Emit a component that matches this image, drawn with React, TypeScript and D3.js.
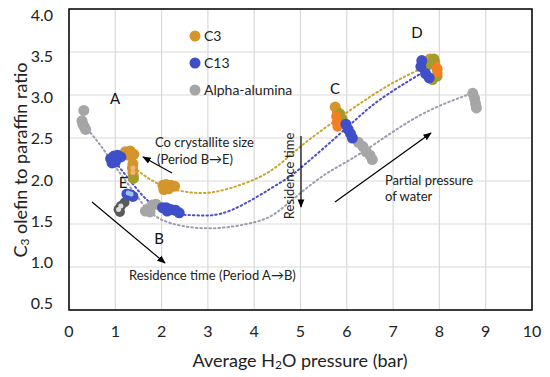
import React from "react";
import * as d3 from "d3";

const W = 550;
const H = 377;

const xTicks = [0, 1, 2, 3, 4, 5, 6, 7, 8, 9, 10];
const yTicks = [0.5, 1.0, 1.5, 2.0, 2.5, 3.0, 3.5, 4.0];

// fitted trend lines
const c3Trend: [number, number][] = [
  [1.4, 2.16], [2.0, 1.95], [2.8, 1.86], [3.5, 1.92], [4.3, 2.1],
  [5.0, 2.4], [5.8, 2.72], [6.8, 3.08], [7.7, 3.33],
];
const c13Trend: [number, number][] = [
  [1.0, 2.22], [1.4, 1.95], [1.8, 1.73], [2.3, 1.62], [2.8, 1.6], [3.5, 1.66],
  [4.5, 1.96], [5.0, 2.15], [6.0, 2.62], [6.7, 2.94], [7.6, 3.25],
];
const aluminaTrend: [number, number][] = [
  [0.4, 2.6], [0.7, 2.4], [1.05, 2.13], [1.5, 1.8], [2.0, 1.55], [3.0, 1.45],
  [4.0, 1.52], [4.5, 1.64], [5.0, 1.86], [5.6, 2.1], [6.35, 2.34], [7.5, 2.74], [8.6, 3.0],
];

// measured points
const c3Points: [number, number][] = [
  [1.22, 2.34], [1.32, 2.35], [1.4, 2.31], [1.28, 2.3],
  [1.38, 2.2], [1.37, 2.15], [1.38, 2.1], [1.39, 2.06],
  [2.03, 1.95], [2.1, 1.96], [2.2, 1.95], [2.28, 1.94], [2.05, 1.9], [2.15, 1.91],
  [5.75, 2.86], [5.8, 2.8],
  [7.8, 3.42], [7.9, 3.38],
];
const c3OlivePoints: [number, number][] = [
  [1.39, 2.03],
  [5.85, 2.78], [5.9, 2.72],
  [7.75, 3.35], [7.95, 3.3], [7.85, 3.18], [7.95, 3.22], [7.88, 3.42],
];
const c3OrangePoints: [number, number][] = [
  [5.77, 2.75], [5.78, 2.68], [5.8, 2.63],
  [7.94, 3.32], [7.96, 3.26],
];
const c3PalePoints: [number, number][] = [[1.38, 2.15], [1.38, 2.1]];

const c13Points: [number, number][] = [
  [0.9, 2.26], [0.97, 2.29], [1.05, 2.3], [1.12, 2.28], [1.0, 2.22], [0.93, 2.21],
  [1.25, 1.85], [1.33, 1.84], [1.38, 1.82],
  [2.02, 1.69], [2.1, 1.69], [2.2, 1.67], [2.3, 1.66], [2.38, 1.63], [2.12, 1.65],
  [5.98, 2.66], [6.03, 2.6], [6.08, 2.55], [6.12, 2.5],
  [7.62, 3.4], [7.6, 3.33], [7.7, 3.25], [7.78, 3.2],
];
const c13PalePoints: [number, number][] = [[1.28, 1.86], [1.34, 1.85]];

const aluminaPoints: [number, number][] = [
  [0.32, 2.82], [0.28, 2.7], [0.3, 2.66], [0.33, 2.63], [0.36, 2.6],
  [1.65, 1.65], [1.72, 1.68], [1.8, 1.72], [1.88, 1.73], [1.75, 1.64],
  [6.25, 2.45], [6.35, 2.4], [6.42, 2.34], [6.5, 2.3], [6.55, 2.25],
  [8.72, 3.02], [8.76, 2.96], [8.78, 2.9], [8.8, 2.85],
];
const aluminaDarkPoints: [number, number][] = [[1.07, 1.67], [1.12, 1.71], [1.2, 1.75], [1.1, 1.64]];

const legendItems = [
  { label: "C3", color: "#D4952B" },
  { label: "C13", color: "#3F4FC9" },
  { label: "Alpha-alumina", color: "#A6A6A6" },
];

const font = "Lato, 'Open Sans', sans-serif";

export default function App() {
  const x = d3.scaleLinear().domain([0, 10]).range([69, 532]);
  const y = d3.scaleLinear().domain([0.5, 4.0]).range([310, 9]);
  const yLab = d3.scaleLinear().domain([0.5, 4.0]).range([305, 17]);

  const line = d3
    .line<[number, number]>()
    .x((d) => x(d[0]))
    .y((d) => y(d[1]))
    .curve(d3.curveNatural);

  const dots = (pts: [number, number][], color: string, r: number, key: string) =>
    pts.map((p, i) => <circle key={key + i} cx={x(p[0])} cy={y(p[1])} r={r} fill={color} />);

  return (
    <svg width={W} height={H} style={{ position: "absolute", left: 0, top: 0, background: "#fff" }} fontFamily={font}>
      <defs>
        <marker id="ah" viewBox="0 0 10 10" refX="9" refY="5" markerWidth="7" markerHeight="7" orient="auto">
          <path d="M0,1 L10,5 L0,9 z" fill="#000" />
        </marker>
      </defs>
      {/* grid */}
      {xTicks.map((t) => (
        <line key={"gx" + t} x1={x(t)} x2={x(t)} y1={y(0.5)} y2={y(4.0)} stroke="#D9D9D9" strokeWidth={1.2} />
      ))}
      {yTicks.map((t) => (
        <line key={"gy" + t} x1={x(0)} x2={x(10)} y1={y(t)} y2={y(t)} stroke="#D9D9D9" strokeWidth={1.2} />
      ))}
      <rect x={x(0)} y={y(4.0)} width={x(10) - x(0)} height={y(0.5) - y(4.0)} fill="none" stroke="#000" strokeWidth={1.5} />

      {/* tick labels */}
      {yTicks.map((t) => (
        <text key={"ly" + t} x={53} y={yLab(t)} textAnchor="end" dominantBaseline="middle" fontSize={16} fill="#222">
          {t.toFixed(1)}
        </text>
      ))}
      {xTicks.map((t) => (
        <text key={"lx" + t} x={x(t)} y={333} textAnchor="middle" dominantBaseline="middle" fontSize={16} fill="#222">
          {t}
        </text>
      ))}

      {/* axis titles */}
      <text x={300} y={362} textAnchor="middle" dominantBaseline="middle" fontSize={18} fill="#222">
        Average H<tspan fontSize={12} dy={4}>2</tspan>
        <tspan dy={-4}>O pressure (bar)</tspan>
      </text>
      <text transform="translate(22,160) rotate(-90)" textAnchor="middle" dominantBaseline="middle" fontSize={18} fill="#222">
        C<tspan fontSize={12} dy={4}>3</tspan>
        <tspan dy={-4}> olefin to paraffin ratio</tspan>
      </text>

      {/* trend lines */}
      <path d={line(aluminaTrend) || ""} fill="none" stroke="#9C9CAE" strokeWidth={2} strokeDasharray="1.5 3" strokeLinecap="round" />
      <path d={line(c13Trend) || ""} fill="none" stroke="#4F4FC4" strokeWidth={2} strokeDasharray="1.5 3" strokeLinecap="round" />
      <path d={line(c3Trend) || ""} fill="none" stroke="#C9A530" strokeWidth={2} strokeDasharray="1.5 3" strokeLinecap="round" />

      {/* points */}
      {dots(aluminaPoints, "#A6A6A6", 5.5, "al")}
      {dots(aluminaDarkPoints, "#5A5A5A", 5, "ad")}
      {dots(aluminaDarkPoints.slice(0, 2), "#E0E0E0", 2.5, "adi")}
      {dots(c3Points, "#D4952B", 5.5, "c3")}
      {dots(c3OlivePoints, "#A39B2B", 5.5, "c3o")}
      {dots(c3OrangePoints, "#F47F20", 5, "c3r")}
      {dots(c3PalePoints, "#F3B27F", 2.5, "c3p")}
      {dots(c13Points, "#3F4FC9", 5.5, "c13")}
      {dots(c13PalePoints, "#9DC3E6", 2.5, "c13p")}

      {/* legend */}
      {legendItems.map((d, i) => (
        <g key={d.label}>
          <circle cx={195} cy={36 + i * 27} r={5.5} fill={d.color} />
          <text x={204} y={37 + i * 27} dominantBaseline="middle" fontSize={14} fill="#222">
            {d.label}
          </text>
        </g>
      ))}

      {/* period labels */}
      {[
        ["A", 115, 100],
        ["E", 123, 184],
        ["B", 159, 240],
        ["C", 335, 90],
        ["D", 417, 34],
      ].map(([t, tx, ty]) => (
        <text key={t as string} x={tx as number} y={ty as number} textAnchor="middle" dominantBaseline="middle" fontSize={15} fill="#111">
          {t}
        </text>
      ))}

      {/* annotations */}
      <text x={155} y={144} dominantBaseline="middle" fontSize={13} fill="#222">Co crystallite size</text>
      <text x={157} y={161} dominantBaseline="middle" fontSize={13} fill="#222">(Period B→E)</text>
      <line x1={172} y1={173} x2={143} y2={157} stroke="#000" strokeWidth={1.2} markerEnd="url(#ah)" />

      <line x1={92} y1={202} x2={165} y2={263} stroke="#000" strokeWidth={1.2} markerEnd="url(#ah)" />
      <text x={129} y={277} dominantBaseline="middle" fontSize={13} fill="#222">Residence time (Period A→B)</text>

      <text transform="translate(291,176) rotate(-90)" textAnchor="middle" dominantBaseline="middle" fontSize={13} fill="#222">
        Residence time
      </text>
      <line x1={301} y1={136} x2={301} y2={207} stroke="#000" strokeWidth={1.2} markerEnd="url(#ah)" />

      <line x1={335} y1={202} x2={431} y2={133} stroke="#000" strokeWidth={1.2} markerEnd="url(#ah)" />
      <text x={385} y={182} dominantBaseline="middle" fontSize={13} fill="#222">Partial pressure</text>
      <text x={385} y={198} dominantBaseline="middle" fontSize={13} fill="#222">of water</text>
    </svg>
  );
}
